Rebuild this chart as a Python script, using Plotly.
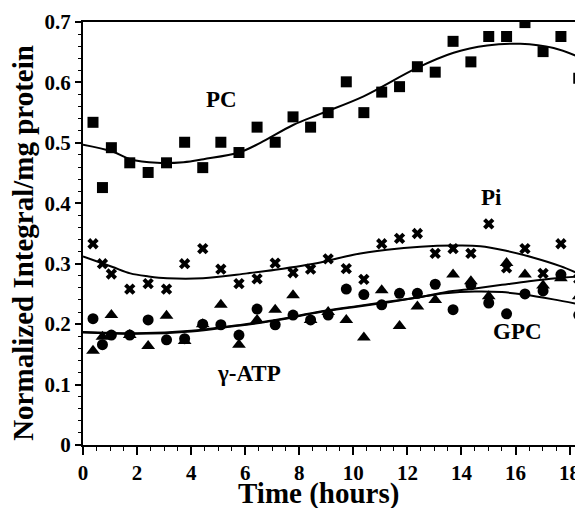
import plotly.graph_objects as go

# Sampling times (hours)
time_h = [0.37, 0.72, 1.05, 1.73, 2.41, 3.09, 3.76, 4.43, 5.10, 5.77, 6.44, 7.11, 7.77, 8.42,
          9.07, 9.74, 10.39, 11.05, 11.71, 12.37, 13.03, 13.69, 14.35, 15.01, 15.67, 16.35,
          17.02, 17.68, 18.34]

pc = [0.534, 0.426, 0.492, 0.467, 0.451, 0.467, 0.501, 0.459, 0.501, 0.484, 0.526, 0.501,
      0.543, 0.526, 0.550, 0.601, 0.550, 0.584, 0.593, 0.626, 0.617, 0.668, 0.634, 0.676,
      0.676, 0.699, 0.651, 0.676, 0.607]

pi = [0.333, 0.300, 0.283, 0.258, 0.267, 0.258, 0.300, 0.325, 0.291, 0.267, 0.275, 0.301,
      0.285, 0.291, 0.308, 0.292, 0.274, 0.333, 0.342, 0.350, 0.317, 0.325, 0.317, 0.366,
      0.293, 0.325, 0.284, 0.333, 0.275]

gpc = [0.209, 0.166, 0.182, 0.182, 0.207, 0.174, 0.176, 0.200, 0.199, 0.182, 0.225, 0.199,
       0.215, 0.207, 0.215, 0.258, 0.249, 0.232, 0.251, 0.251, 0.266, 0.224, 0.265, 0.235,
       0.217, 0.250, 0.255, 0.282, 0.215]

atp = [0.156, 0.179, 0.215, 0.182, 0.164, 0.214, 0.172, 0.200, 0.232, 0.166, 0.207, 0.224,
       0.248, 0.207, 0.220, 0.207, 0.178, 0.256, 0.197, 0.229, 0.240, 0.282, 0.271, 0.246,
       0.301, 0.282, 0.264, 0.276, 0.246]

# Fitted curves
pc_fit_x = [0.0, 1.07, 1.75, 2.74, 3.72, 4.46, 5.77, 6.56, 7.79, 8.78, 10.38, 12.36, 13.71,
            14.95, 16.18, 17.41, 18.46]
pc_fit_y = [0.497, 0.486, 0.473, 0.467, 0.468, 0.473, 0.484, 0.500, 0.530, 0.548, 0.577,
            0.624, 0.649, 0.661, 0.664, 0.657, 0.640]

pi_fit_x = [0.0, 1.07, 1.75, 2.43, 3.11, 4.44, 6.07, 7.12, 8.78, 10.01, 11.25, 12.48, 13.71,
            14.70, 15.69, 16.67, 17.66, 18.46]
pi_fit_y = [0.312, 0.295, 0.284, 0.279, 0.276, 0.276, 0.284, 0.290, 0.302, 0.315, 0.323,
            0.328, 0.330, 0.329, 0.321, 0.310, 0.296, 0.281]

gpc_fit_x = [0.0, 2.0, 4.0, 5.5, 7.0, 8.78, 10.0, 11.25, 12.5, 13.4, 14.5, 15.5, 16.3, 17.4, 18.46]
gpc_fit_y = [0.187, 0.185, 0.189, 0.197, 0.206, 0.221, 0.229, 0.237, 0.245, 0.251, 0.254,
             0.253, 0.249, 0.241, 0.232]

atp_fit_x = [0.0, 2.0, 4.0, 5.5, 7.0, 8.78, 10.0, 11.25, 12.5, 13.4, 14.5, 15.5, 16.5, 17.5, 18.46]
atp_fit_y = [0.186, 0.184, 0.188, 0.196, 0.205, 0.220, 0.228, 0.236, 0.245, 0.253, 0.259,
             0.265, 0.271, 0.276, 0.279]

labels = ["PC", "Pi", "γ-ATP", "GPC"]
label_x = [5.14, 15.13, 6.13, 16.06]
label_y = [0.572, 0.409, 0.119, 0.188]

FONT = "Liberation Serif, Times New Roman, serif"

fig = go.Figure()

for fx, fy in [(pc_fit_x, pc_fit_y), (pi_fit_x, pi_fit_y), (gpc_fit_x, gpc_fit_y), (atp_fit_x, atp_fit_y)]:
    fig.add_trace(go.Scatter(x=fx, y=fy, mode="lines", line=dict(color="black", width=2, shape="spline"),
                             showlegend=False, hoverinfo="skip"))

fig.add_trace(go.Scatter(x=time_h, y=pc, mode="markers", name="PC",
                         marker=dict(symbol="square", size=11, color="black")))
fig.add_trace(go.Scatter(x=time_h, y=pi, mode="markers", name="Pi",
                         marker=dict(symbol="x", size=10, color="black")))
fig.add_trace(go.Scatter(x=time_h, y=gpc, mode="markers", name="GPC",
                         marker=dict(symbol="circle", size=11, color="black")))
fig.add_trace(go.Scatter(x=time_h, y=atp, mode="markers", name="γ-ATP",
                         marker=dict(symbol="triangle-up", size=12, color="black")))

for t, lx, ly in zip(labels, label_x, label_y):
    fig.add_annotation(x=lx, y=ly, text=t, showarrow=False, xanchor="center", yanchor="middle",
                       font=dict(family=FONT, size=23, color="black", weight="bold"))

# axis titles
fig.add_annotation(xref="paper", yref="paper", x=0.471, y=-0.1135, text="Time (hours)",
                   showarrow=False, xanchor="center", yanchor="middle",
                   font=dict(family=FONT, size=29, color="black", weight="bold"))
fig.add_annotation(xref="paper", yref="paper", x=-0.1202, y=0.478, text="Normalized Integral/mg protein",
                   showarrow=False, xanchor="center", yanchor="middle", textangle=-90,
                   font=dict(family=FONT, size=29, color="black", weight="bold"))

fig.update_xaxes(range=[0, 18.46], tick0=0, dtick=2, ticks="outside", ticklen=8, tickwidth=2,
                 tickcolor="black", showline=True, linecolor="black", linewidth=2, mirror=True,
                 showgrid=False, zeroline=False,
                 tickfont=dict(family=FONT, size=21, color="black", weight="bold"),
                 minor=dict(dtick=0.5, ticks="outside", ticklen=4, tickwidth=1, tickcolor="black",
                            showgrid=False))
fig.update_yaxes(range=[0, 0.7], tick0=0, dtick=0.1, ticks="outside", ticklen=6, tickwidth=2,
                 tickcolor="black", showline=True, linecolor="black", linewidth=2, mirror=True,
                 showgrid=False, zeroline=False,
                 tickfont=dict(family=FONT, size=21, color="black", weight="bold"),
                 minor=dict(dtick=0.02, ticks="outside", ticklen=3, tickwidth=1, tickcolor="black",
                            showgrid=False))

# The page body has an 8 px margin, so the figure is 8 px smaller on each axis
fig.update_layout(width=575, height=500, margin=dict(l=75, r=1, t=14, b=63, autoexpand=False),
                  paper_bgcolor="white", plot_bgcolor="white", showlegend=False)

fig.write_html("out.html")
